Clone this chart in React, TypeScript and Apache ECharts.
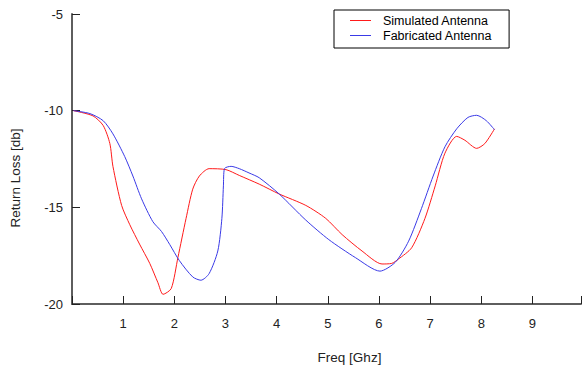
import React, { useEffect, useRef } from "react";
import * as echarts from "echarts";

const simFreq = [0.03, 0.41, 0.61, 0.74, 0.8, 0.97, 1.13, 1.32, 1.52, 1.68, 1.78, 1.94, 2.07, 2.23, 2.36, 2.49, 2.68, 3.01, 3.27, 3.66, 4.05, 4.57, 4.96, 5.28, 5.67, 6.06, 6.25, 6.38, 6.64, 6.9, 7.1, 7.29, 7.52, 7.68, 7.91, 8.07, 8.26];
const simLoss = [-10.0, -10.27, -10.77, -11.7, -12.88, -14.9, -15.9, -16.9, -17.9, -18.9, -19.5, -19.2, -17.6, -15.57, -14.06, -13.38, -13.0, -13.05, -13.35, -13.8, -14.31, -14.9, -15.57, -16.41, -17.26, -17.93, -17.9, -17.68, -17.09, -15.57, -13.89, -12.2, -11.33, -11.53, -11.95, -11.7, -10.94];

const fabFreq = [0.03, 0.35, 0.61, 0.8, 1.03, 1.19, 1.36, 1.58, 1.75, 1.91, 2.1, 2.36, 2.52, 2.68, 2.85, 2.93, 2.96, 2.98, 3.11, 3.27, 3.46, 3.66, 4.05, 4.57, 5.02, 5.54, 6.02, 6.32, 6.58, 6.83, 7.06, 7.29, 7.52, 7.74, 7.91, 8.1, 8.26];
const fabLoss = [-10.0, -10.15, -10.52, -11.2, -12.37, -13.38, -14.56, -15.74, -16.25, -16.92, -17.76, -18.6, -18.77, -18.43, -17.26, -15.57, -13.89, -13.0, -12.88, -13.0, -13.22, -13.47, -14.31, -15.66, -16.67, -17.6, -18.3, -17.84, -16.75, -15.07, -13.38, -11.87, -10.94, -10.35, -10.24, -10.52, -10.99];

const xTickLabels = ["1", "2", "3", "4", "5", "6", "7", "8", "9"];
const yTickLabels = ["-20", "-15", "-10", "-5"];

const seriesNames = ["Simulated Antenna", "Fabricated Antenna"];

const FONT = "'Liberation Sans', Arial, sans-serif";

export default function App() {
  const ref = useRef<HTMLDivElement>(null);
  useEffect(() => {
    if (!ref.current) return;
    const chart = echarts.init(ref.current, null, { renderer: "svg" });
    const sim = simFreq.map((f, i) => [f, simLoss[i]]);
    const fab = fabFreq.map((f, i) => [f, fabLoss[i]]);
    chart.setOption({
      animation: false,
      backgroundColor: "#ffffff",
      textStyle: { fontFamily: FONT },
      grid: { left: 72, right: 0, top: 14, bottom: 58 },
      legend: {
        orient: "vertical",
        left: 334,
        top: 10,
        padding: [4, 17, 6, 16],
        itemGap: 2,
        itemWidth: 21,
        itemHeight: 1,
        icon: "rect",
        borderColor: "#000000",
        borderWidth: 1,
        textStyle: { fontSize: 12.5, color: "#000000", fontFamily: FONT, padding: [0, 0, 0, 7] },
        data: seriesNames,
      },
      xAxis: {
        type: "value",
        min: 0,
        max: 9.95,
        interval: 1,
        name: "Freq [Ghz]",
        nameLocation: "middle",
        nameGap: 46,
        nameTextStyle: { fontSize: 13.5, color: "#222222", padding: [0, 0, 0, 46] },
        axisLine: { lineStyle: { color: "#5e5e5e", width: 2 } },
        axisTick: { inside: true, length: 8, lineStyle: { color: "#222222", width: 1 } },
        axisLabel: {
          margin: 13,
          fontSize: 13,
          color: "#222222",
          formatter: (v: number) => (xTickLabels.includes(String(v)) ? String(v) : ""),
        },
        splitLine: { show: false },
      },
      yAxis: {
        type: "value",
        min: -20,
        max: -5,
        interval: 5,
        name: "Return Loss [db]",
        nameLocation: "middle",
        nameGap: 50,
        nameTextStyle: { fontSize: 13.5, color: "#222222", padding: [0, 38, 0, 0] },
        axisLine: { show: true, lineStyle: { color: "#5e5e5e", width: 2 } },
        axisTick: { show: true, inside: true, length: 8, lineStyle: { color: "#222222", width: 1 } },
        axisLabel: {
          margin: 9,
          fontSize: 13,
          color: "#222222",
          padding: [4, 0, 0, 0],
          formatter: (v: number) => (yTickLabels.includes(String(v)) ? String(v) : ""),
        },
        splitLine: { show: false },
      },
      series: [
        {
          name: seriesNames[0],
          type: "line",
          data: sim,
          symbol: "none",
          smooth: 0.25,
          lineStyle: { color: "#ff1a1a", width: 1 },
          itemStyle: { color: "#ff1a1a" },
        },
        {
          name: seriesNames[1],
          type: "line",
          data: fab,
          symbol: "none",
          smooth: 0.25,
          lineStyle: { color: "#3a3ae6", width: 1 },
          itemStyle: { color: "#3a3ae6" },
        },
      ],
    });
    return () => chart.dispose();
  }, []);
  return <div ref={ref} style={{ position: "absolute", left: 0, top: 0, width: 584, height: 369 }} />;
}
